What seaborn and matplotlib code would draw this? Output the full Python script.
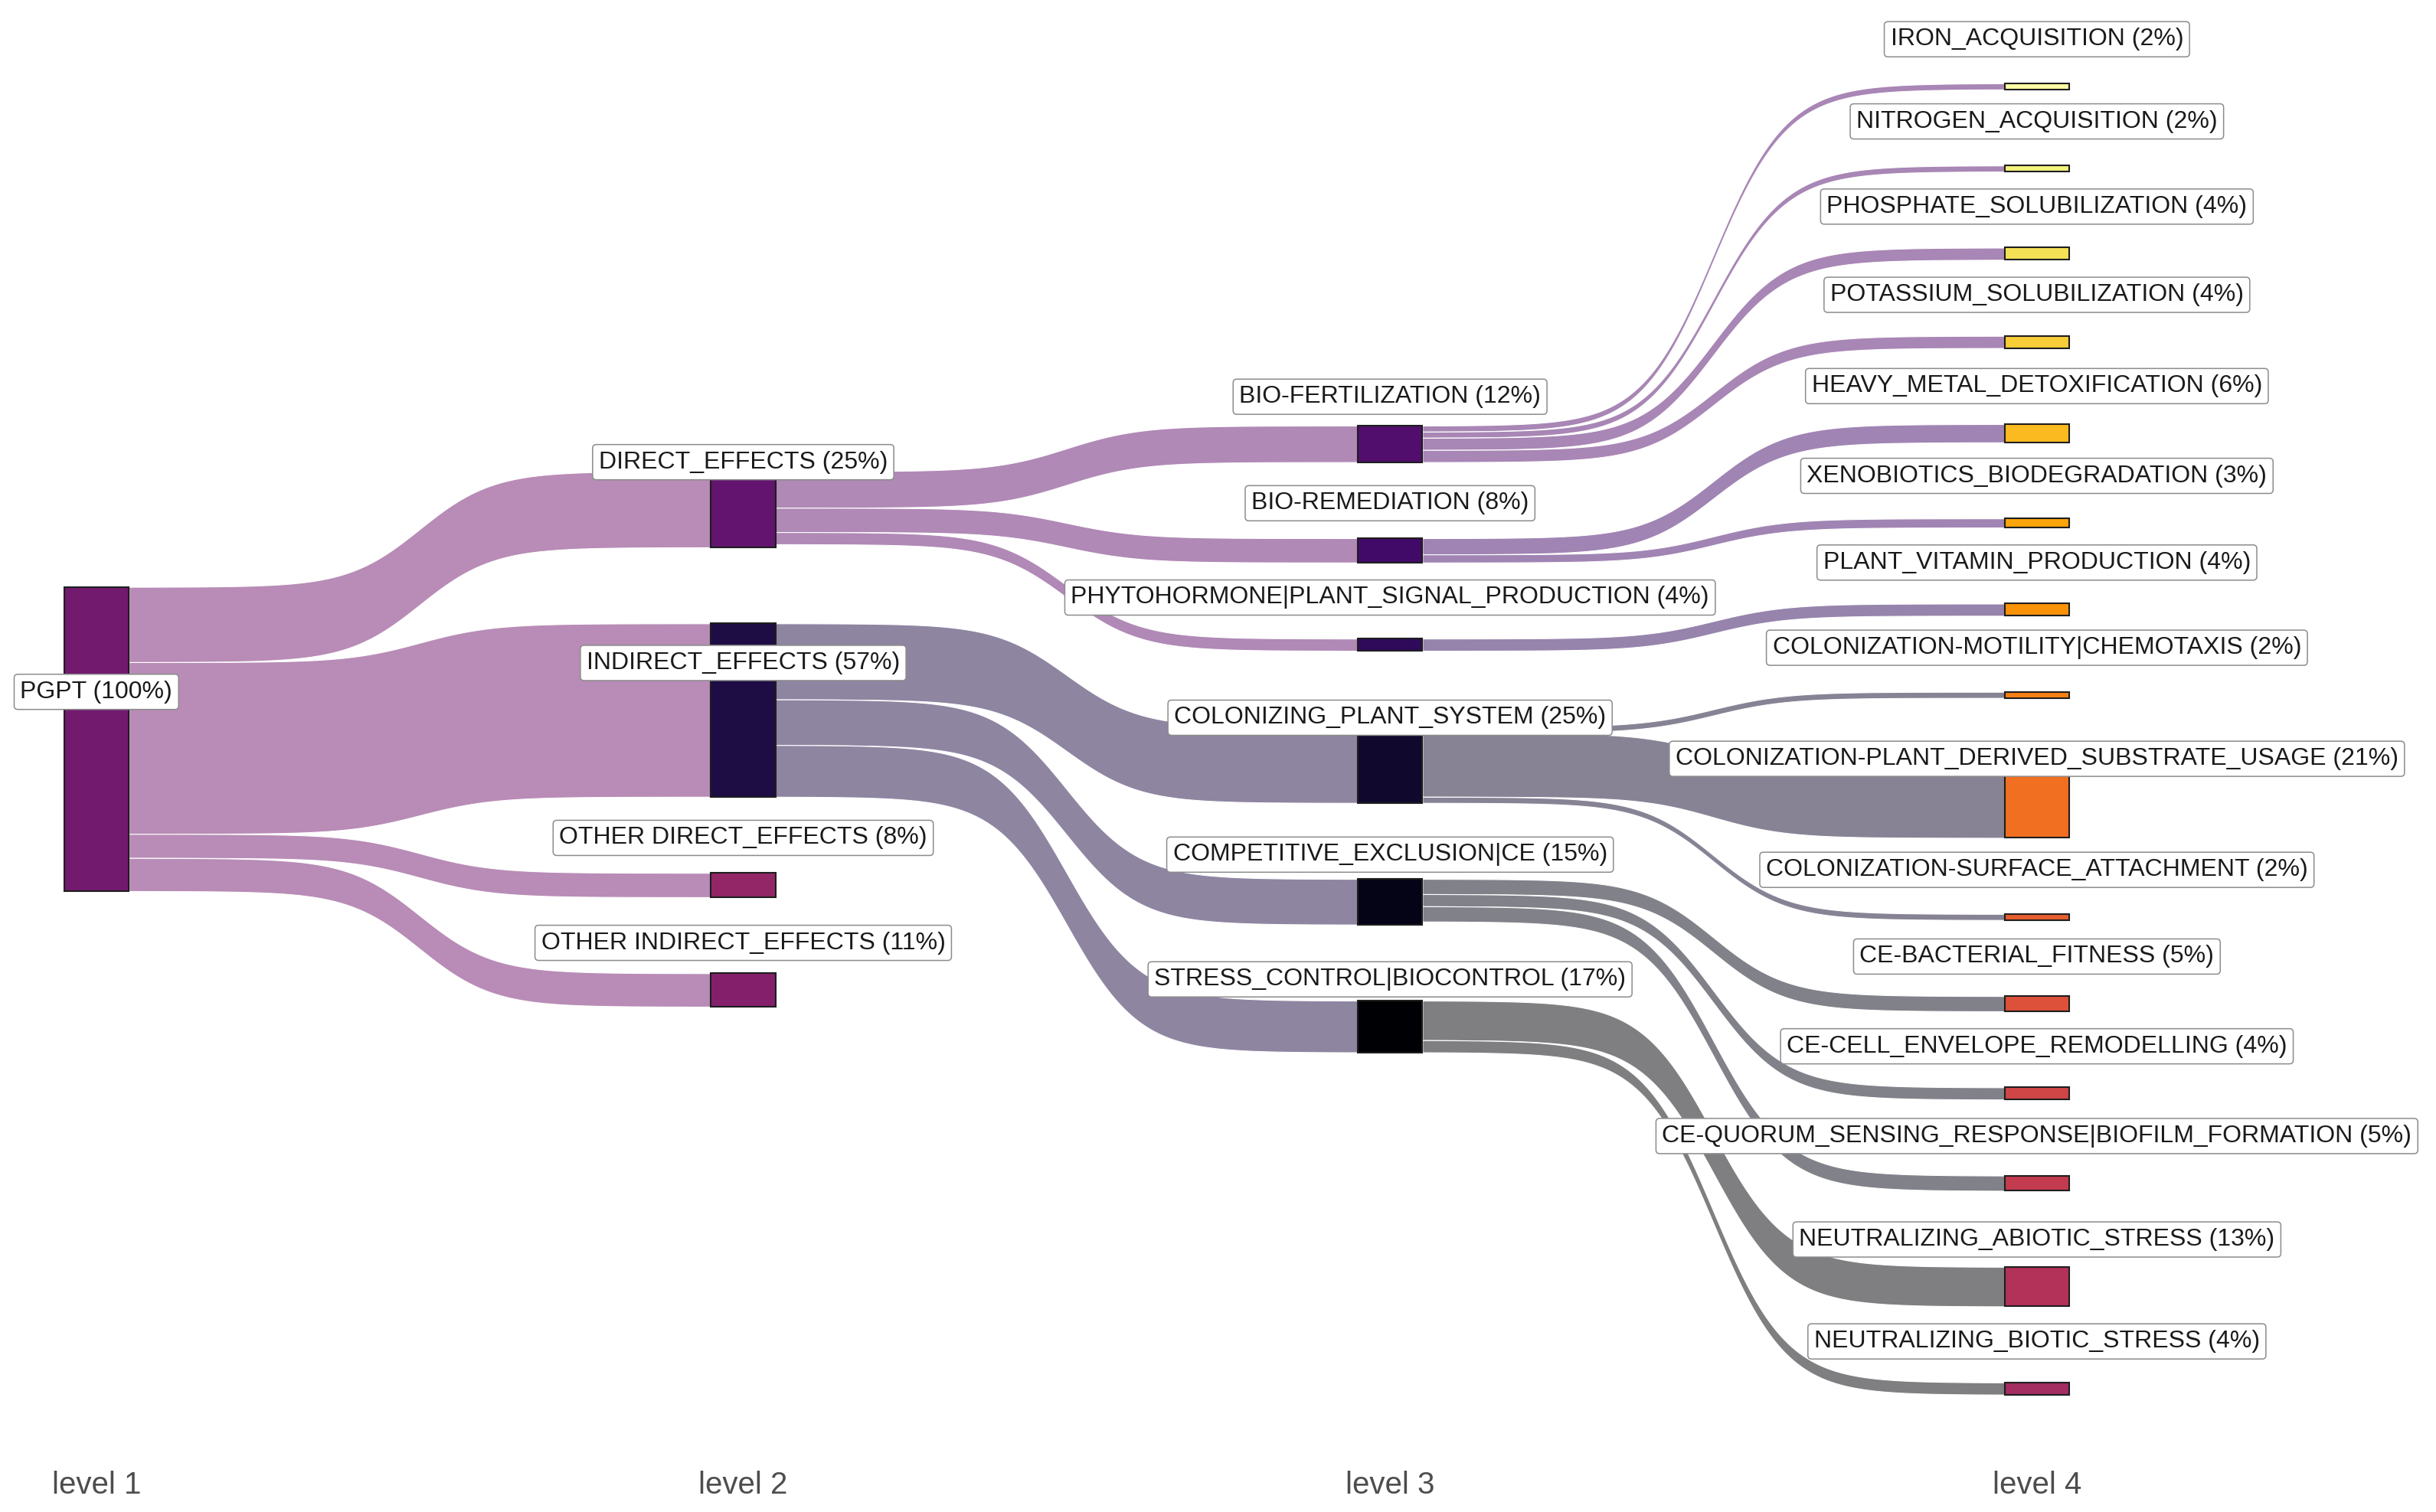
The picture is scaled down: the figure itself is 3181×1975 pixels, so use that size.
import numpy as np
import matplotlib
matplotlib.use("Agg")
import matplotlib.pyplot as plt
from matplotlib.patches import Rectangle
import seaborn as sns

# nodes per level, top to bottom, with their share in %
level1_nodes = ["PGPT"]
level1_pct = [100]
level2_nodes = ["DIRECT_EFFECTS", "INDIRECT_EFFECTS", "OTHER DIRECT_EFFECTS", "OTHER INDIRECT_EFFECTS"]
level2_pct = [25, 57, 8, 11]
level3_nodes = ["BIO-FERTILIZATION", "BIO-REMEDIATION", "PHYTOHORMONE|PLANT_SIGNAL_PRODUCTION",
                "COLONIZING_PLANT_SYSTEM", "COMPETITIVE_EXCLUSION|CE", "STRESS_CONTROL|BIOCONTROL"]
level3_pct = [12, 8, 4, 25, 15, 17]
level4_nodes = ["IRON_ACQUISITION", "NITROGEN_ACQUISITION", "PHOSPHATE_SOLUBILIZATION",
                "POTASSIUM_SOLUBILIZATION", "HEAVY_METAL_DETOXIFICATION", "XENOBIOTICS_BIODEGRADATION",
                "PLANT_VITAMIN_PRODUCTION", "COLONIZATION-MOTILITY|CHEMOTAXIS",
                "COLONIZATION-PLANT_DERIVED_SUBSTRATE_USAGE", "COLONIZATION-SURFACE_ATTACHMENT",
                "CE-BACTERIAL_FITNESS", "CE-CELL_ENVELOPE_REMODELLING",
                "CE-QUORUM_SENSING_RESPONSE|BIOFILM_FORMATION", "NEUTRALIZING_ABIOTIC_STRESS",
                "NEUTRALIZING_BIOTIC_STRESS"]
level4_pct = [2, 2, 4, 4, 6, 3, 4, 2, 21, 2, 5, 4, 5, 13, 4]
level_names = ["level 1", "level 2", "level 3", "level 4"]

# flows between consecutive levels
flow_source = (["PGPT"] * 4
               + ["DIRECT_EFFECTS"] * 3 + ["INDIRECT_EFFECTS"] * 3
               + ["BIO-FERTILIZATION"] * 4 + ["BIO-REMEDIATION"] * 2
               + ["PHYTOHORMONE|PLANT_SIGNAL_PRODUCTION"]
               + ["COLONIZING_PLANT_SYSTEM"] * 3 + ["COMPETITIVE_EXCLUSION|CE"] * 3
               + ["STRESS_CONTROL|BIOCONTROL"] * 2)
flow_target = level2_nodes + level3_nodes + level4_nodes
flow_value = level2_pct + level3_pct + level4_pct

# order in which the inferno palette is handed out
color_order = ["STRESS_CONTROL|BIOCONTROL", "COMPETITIVE_EXCLUSION|CE", "COLONIZING_PLANT_SYSTEM",
               "INDIRECT_EFFECTS", "PHYTOHORMONE|PLANT_SIGNAL_PRODUCTION", "BIO-REMEDIATION",
               "BIO-FERTILIZATION", "DIRECT_EFFECTS", "PGPT", "OTHER INDIRECT_EFFECTS",
               "OTHER DIRECT_EFFECTS"] + level4_nodes[::-1]

sns.set_theme(style="white")
plt.rcParams['font.family'] = ['Liberation Sans', 'DejaVu Sans']

cmap = plt.get_cmap("inferno")
node_color = {n: cmap(i / (len(color_order) - 1)) for i, n in enumerate(color_order)}

levels = [(level1_nodes, level1_pct), (level2_nodes, level2_pct),
          (level3_nodes, level3_pct), (level4_nodes, level4_pct)]
space = 25
width = 0.1
node_x, node_top, node_h, node_pct = {}, {}, {}, {}
for i, (names, pct) in enumerate(levels):
    total = sum(pct) + space * (len(names) - 1)
    y = -total / 2
    for n, v in zip(names, pct):
        node_x[n] = i + 1
        node_top[n] = y
        node_h[n] = v
        node_pct[n] = v
        y += v + space

out_sum = {n: 0 for n in node_x}
in_sum = {n: 0 for n in node_x}
for s, t, v in zip(flow_source, flow_target, flow_value):
    out_sum[s] += v
    in_sum[t] += v
out_off = {n: 0.0 for n in node_x}
in_off = {n: 0.0 for n in node_x}

fig = plt.figure(figsize=(31.81, 19.75), dpi=100)
ax = fig.add_axes([0, 0.04, 1, 0.96])

smooth = 8
t = np.linspace(-smooth, smooth, 300)
sig = 1 / (1 + np.exp(-t))
sig = (sig - sig[0]) / (sig[-1] - sig[0])

for s, tg, v in zip(flow_source, flow_target, flow_value):
    sc_s = min(1, node_h[s] / out_sum[s])
    sc_t = min(1, node_h[tg] / in_sum[tg])
    y0a = node_top[s] + out_off[s]
    y0b = y0a + v * sc_s
    out_off[s] += v * sc_s
    y1a = node_top[tg] + in_off[tg]
    y1b = y1a + v * sc_t
    in_off[tg] += v * sc_t
    x0 = node_x[s] + width / 2
    x1 = node_x[tg] - width / 2
    xs = x0 + (x1 - x0) * (t + smooth) / (2 * smooth)
    top = y0a + (y1a - y0a) * sig
    bot = y0b + (y1b - y0b) * sig
    c = node_color[s]
    ax.fill_between(xs, top, bot, facecolor=(c[0], c[1], c[2], 0.5),
                    edgecolor="white", linewidth=0.8, zorder=1)

for n in node_x:
    ax.add_patch(Rectangle((node_x[n] - width / 2, node_top[n]), width, node_h[n],
                           facecolor=node_color[n], edgecolor="#1e1e1e", linewidth=1.5, zorder=2))

for n in node_x:
    ax.text(node_x[n], node_top[n] + node_h[n] / 2 - 15.5, f"{n} ({node_pct[n]}%)",
            ha="center", va="center", fontsize=23, color="#1a1a1a", zorder=3,
            bbox=dict(boxstyle="round,pad=0.25,rounding_size=0.15", facecolor="white",
                      edgecolor="#8c8c8c", linewidth=1.1))

ax.set_xlim(0.851, 4.617)
ax.set_ylim(234.2, -242.9)
ax.set_xticks(range(1, len(level_names) + 1))
ax.set_xticklabels(level_names, fontsize=29, color="#4d4d4d")
ax.set_yticks([])
ax.tick_params(axis="x", length=0, pad=18)
for sp in ax.spines.values():
    sp.set_visible(False)
ax.grid(False)

fig.savefig("out.png", dpi=100, facecolor="white")
